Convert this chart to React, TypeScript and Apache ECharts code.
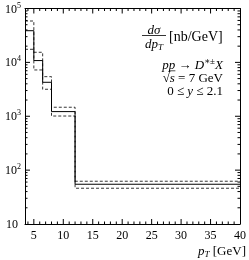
import React, { useEffect, useRef } from "react";
import * as echarts from "echarts";

const binEdges = [3.5, 5, 6.5, 8, 12, 40];
const centralValues = [38700, 10800, 4270, 1220, 54.7];
const upperValues = [58600, 15400, 5430, 1470, 62.2];
const lowerValues = [17500, 7230, 3170, 1010, 46.1];
const xTickLabels = [5, 10, 15, 20, 25, 30, 35, 40];
const yTickLabels = [10, 100, 1000, 10000, 100000];
const xMin = 3.5;
const xMax = 40;
const yMin = 10;
const yMax = 100000;

const FONT = "'Liberation Serif', 'DejaVu Serif', serif";

function stepData(values: number[]) {
  const out: number[][] = [];
  values.forEach((v, i) => {
    out.push([binEdges[i], v]);
    out.push([binEdges[i + 1], v]);
  });
  return out;
}

const supRich = {
  b: { fontSize: 12, fontFamily: FONT, color: "#000", lineHeight: 15 },
  s: { fontSize: 8, fontFamily: FONT, color: "#000", lineHeight: 8, verticalAlign: "top" },
  p: { fontSize: 12, fontFamily: FONT, color: "#000", lineHeight: 15, padding: [0, 3, 0, 0] },
};

function measure(text: string, font: string) {
  const c = document.createElement("canvas").getContext("2d");
  if (!c) return text.length * 6;
  c.font = font;
  return c.measureText(text).width;
}

export default function App() {
  const ref = useRef<HTMLDivElement>(null);
  useEffect(() => {
    if (!ref.current) return;
    const chart = echarts.init(ref.current, null, { renderer: "svg" });
    const option: any = {
      animation: false,
      grid: { left: 25, right: 8, top: 8.5, bottom: 36 },
      xAxis: [
        {
          type: "value",
          min: xMin,
          max: xMax,
          axisLine: { show: true, onZero: false, lineStyle: { color: "#000", width: 1 } },
          axisTick: { show: false },
          splitLine: { show: false },
          axisLabel: {
            customValues: xTickLabels,
            fontFamily: FONT,
            fontSize: 12,
            color: "#000",
            margin: 5,
          },
        },
        {
          type: "value",
          position: "top",
          min: xMin,
          max: xMax,
          axisLine: { show: true, onZero: false, lineStyle: { color: "#000", width: 1 } },
          axisTick: { show: false },
          splitLine: { show: false },
          axisLabel: { show: false },
        },
      ],
      yAxis: [
        {
          type: "log",
          logBase: 10,
          min: yMin,
          max: yMax,
          axisLine: { show: true, onZero: false, lineStyle: { color: "#000", width: 1 } },
          axisTick: { show: false },
          splitLine: { show: false },
          axisLabel: {
            margin: 4,
            formatter: (v: number) => {
              if (yTickLabels.indexOf(v) < 0) return "";
              const e = Math.round(Math.log10(v));
              if (e === 1) return "{p|10}";
              return "{b|10}{s|" + e + "}";
            },
            rich: supRich,
          },
        },
        {
          type: "log",
          logBase: 10,
          position: "right",
          min: yMin,
          max: yMax,
          axisLine: { show: true, onZero: false, lineStyle: { color: "#000", width: 1 } },
          axisTick: { show: false },
          splitLine: { show: false },
          axisLabel: { show: false },
        },
      ],
      series: [
        {
          type: "line",
          data: stepData(upperValues),
          symbol: "none",
          lineStyle: { color: "#000", width: 0.8, type: [3, 2] },
        },
        {
          type: "line",
          data: stepData(lowerValues),
          symbol: "none",
          lineStyle: { color: "#000", width: 0.8, type: [3, 2] },
        },
        {
          type: "line",
          data: stepData(centralValues),
          symbol: "none",
          lineStyle: { color: "#000", width: 1 },
        },
      ],
    };
    chart.setOption(option);

    const px = (v: number) => chart.convertToPixel({ xAxisIndex: 0 }, v) as number;
    const py = (v: number) => chart.convertToPixel({ yAxisIndex: 0 }, v) as number;
    const xL = px(xMin);
    const xR = px(xMax);
    const yT = py(yMax);
    const yB = py(yMin);
    const g: any[] = [];
    const ln = (x1: number, y1: number, x2: number, y2: number, w = 1) =>
      g.push({
        type: "line",
        silent: true,
        shape: { x1, y1, x2, y2 },
        style: { stroke: "#000", lineWidth: w },
      });
    for (let v = Math.ceil(xMin); v < xMax; v++) {
      const major = v % 5 === 0;
      const len = major ? 5 : 2.5;
      const x = px(v);
      ln(x, yB, x, yB - len);
      ln(x, yT, x, yT + len);
    }
    for (let d = yMin; d < yMax; d *= 10) {
      for (let m = 1; m <= 9; m++) {
        const v = m * d;
        if (v <= yMin || v >= yMax) continue;
        const len = m === 1 ? 5 : 2.5;
        const y = py(v);
        ln(xL, y, xL + len, y);
        ln(xR, y, xR - len, y);
      }
    }
    const mk = (fs: number) => ({
      r: { fontFamily: FONT, fontSize: fs, color: "#000", lineHeight: 16 },
      i: { fontFamily: FONT, fontSize: fs, color: "#000", fontStyle: "italic", lineHeight: 16 },
      sup: { fontFamily: FONT, fontSize: 9, color: "#000", lineHeight: 9, verticalAlign: "top" },
      sub: { fontFamily: FONT, fontSize: 9, color: "#000", fontStyle: "italic", lineHeight: 9, verticalAlign: "bottom" },
    });
    const txt = (text: string, x: number, y: number, align: string, fs = 13) =>
      g.push({
        type: "text",
        silent: true,
        x,
        y,
        style: { text, align, verticalAlign: "middle", rich: mk(fs), fontFamily: FONT, fontSize: fs, fill: "#000" },
      });
    const FS = 13;
    txt("{i|dσ}", 154, 29, "center");
    ln(142, 35.5, 166, 35.5, 0.8);
    txt("{i|dp}{sub|T}", 154, 43, "center");
    txt("{r|[nb/GeV]}", 169, 36, "left", 14);
    txt("{i|pp}{r| → }{i|D}{sup|∗±}{i|X}", 223, 64, "right", FS);
    txt("{r|√}{i|s}{r| = 7 GeV}", 223, 77, "right", FS);
    txt("{r|0 ≤ }{i|y}{r| ≤ 2.1}", 223, 90, "right", FS);
    txt("{i|p}{sub|T}{r| [GeV]}", 246, 250, "right", 13);
    // vinculum of the square root over s
    const wRest = measure(" = 7 GeV", FS + "px " + FONT);
    const wS = measure("s", "italic " + FS + "px " + FONT);
    const sRight = 223 - wRest;
    ln(sRight - wS - 0.5, 70.8, sRight + 0.5, 70.8, 0.7);
    chart.setOption({ graphic: g });
    return () => chart.dispose();
  }, []);
  return (
    <div
      ref={ref}
      style={{ position: "fixed", left: 0, top: 0, width: 249, height: 260 }}
    />
  );
}
